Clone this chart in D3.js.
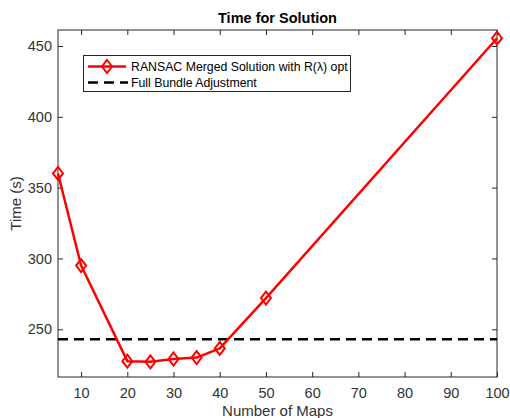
<!DOCTYPE html>
<html><head><meta charset="utf-8">
<script src="https://cdn.jsdelivr.net/npm/d3@7"></script>
<style>body{margin:0;background:#fff}svg{display:block;font-family:"Liberation Sans",Arial,sans-serif}</style>
</head><body>
<svg id="c" width="510" height="418"></svg>
<script>
const mapsCount = [5, 10, 20, 25, 30, 35, 40, 50, 100];
const ransacTime = [360, 295, 227.5, 227, 229, 230, 236.5, 272, 455.5];
const fullBA = 243;
const xTicks = [10, 20, 30, 40, 50, 60, 70, 80, 90, 100];
const yTicks = [250, 300, 350, 400, 450];
const seriesNames = ["RANSAC Merged Solution with R(\u03bb) opt", "Full Bundle Adjustment"];

const svg = d3.select("#c");
const L = 58, R = 497, T = 30, B = 377;
const x = d3.scaleLinear().domain([5, 100]).range([L, R]);
const y = d3.scaleLinear().domain([216.3, 461.3]).range([B, T]);
const axisCol = "#262626";

svg.append("rect").attr("x", L).attr("y", T).attr("width", R - L).attr("height", B - T)
  .attr("fill", "none").attr("stroke", axisCol).attr("stroke-width", 1);

const gx = svg.append("g").attr("transform", `translate(0,${B})`)
  .call(d3.axisBottom(x).tickValues(xTicks).tickSizeInner(-5).tickSizeOuter(0).tickPadding(11));
const gxTop = svg.append("g").attr("transform", `translate(0,${T})`)
  .call(d3.axisTop(x).tickValues(xTicks).tickSizeInner(-5).tickSizeOuter(0).tickFormat(""));
const gy = svg.append("g").attr("transform", `translate(${L},0)`)
  .call(d3.axisLeft(y).tickValues(yTicks).tickSizeInner(-5).tickSizeOuter(0).tickPadding(6));
const gyR = svg.append("g").attr("transform", `translate(${R},0)`)
  .call(d3.axisRight(y).tickValues(yTicks).tickSizeInner(-5).tickSizeOuter(0).tickFormat(""));
[gx, gxTop, gy, gyR].forEach(g => {
  g.select(".domain").remove();
  g.selectAll("line").attr("stroke", axisCol);
  g.selectAll("text").attr("fill", "#333").style("font-size", "14.5px").style("font-family", '"Liberation Sans",Arial,sans-serif');
});

svg.append("line").attr("x1", x(5)).attr("x2", x(100)).attr("y1", y(fullBA)).attr("y2", y(fullBA))
  .attr("stroke", "#000").attr("stroke-width", 2.5).attr("stroke-dasharray", "10,6");

const line = d3.line().x((d, i) => x(mapsCount[i])).y(d => y(d));
svg.append("path").datum(ransacTime).attr("d", line).attr("fill", "none")
  .attr("stroke", "#ff0000").attr("stroke-width", 2.5).attr("stroke-linejoin", "round");
const diamond = (cx, cy) => `M${cx},${cy - 6.5}L${cx + 5},${cy}L${cx},${cy + 6.5}L${cx - 5},${cy}Z`;
svg.selectAll(".mk").data(ransacTime).enter().append("path")
  .attr("d", (d, i) => diamond(x(mapsCount[i]), y(d)))
  .attr("fill", "none").attr("stroke", "#ff0000").attr("stroke-width", 2);

svg.append("text").attr("x", (L + R) / 2).attr("y", 23).attr("text-anchor", "middle")
  .style("font-size", "14.5px").style("font-weight", "bold").attr("fill", "#000").text("Time for Solution");
svg.append("text").attr("x", (L + R) / 2).attr("y", 416).attr("text-anchor", "middle")
  .style("font-size", "15px").attr("fill", "#333").text("Number of Maps");
svg.append("text").attr("transform", `translate(21,${(T + B) / 2}) rotate(-90)`).attr("text-anchor", "middle")
  .style("font-size", "15px").attr("fill", "#333").text("Time (s)");

const lg = svg.append("g");
lg.append("rect").attr("x", 83.5).attr("y", 55.5).attr("width", 267).attr("height", 36)
  .attr("fill", "#fff").attr("stroke", axisCol).attr("stroke-width", 1);
lg.append("line").attr("x1", 88).attr("x2", 126).attr("y1", 66.5).attr("y2", 66.5)
  .attr("stroke", "#ff0000").attr("stroke-width", 2.5);
lg.append("path").attr("d", diamond(107, 66.5)).attr("fill", "none").attr("stroke", "#ff0000").attr("stroke-width", 2);
lg.append("text").attr("x", 131).attr("y", 70.8).style("font-size", "12.3px").attr("fill", "#000").text(seriesNames[0]);
lg.append("line").attr("x1", 88).attr("x2", 128).attr("y1", 82.5).attr("y2", 82.5)
  .attr("stroke", "#000").attr("stroke-width", 2.5).attr("stroke-dasharray", "10,6");
lg.append("text").attr("x", 131).attr("y", 86.8).style("font-size", "12.3px").attr("fill", "#000").text(seriesNames[1]);
</script>
</body></html>
